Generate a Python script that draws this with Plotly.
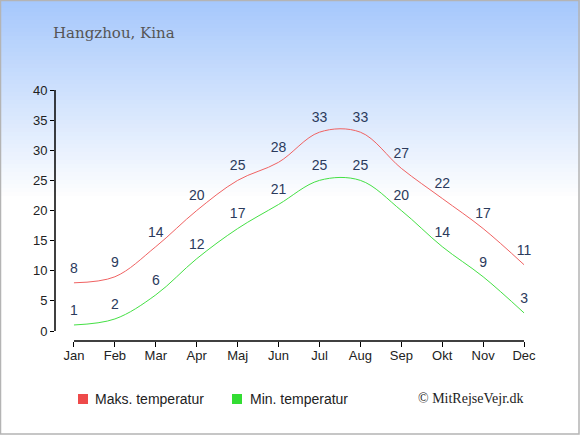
import plotly.graph_objects as go

months = ["Jan", "Feb", "Mar", "Apr", "Maj", "Jun", "Jul", "Aug", "Sep", "Okt", "Nov", "Dec"]
max_temp = [8, 9, 14, 20, 25, 28, 33, 33, 27, 22, 17, 11]
min_temp = [1, 2, 6, 12, 17, 21, 25, 25, 20, 14, 9, 3]
y_ticks = [0, 5, 10, 15, 20, 25, 30, 35, 40]

W, H = 580, 435
L, R, T, B = 55, 40, 80, 94
PW, PH = W - L - R, H - T - B


def px(x, y):
    # pixel position -> paper coordinates of the plot area
    return (x - L) / PW, 1 - (y - T) / PH


xs = list(range(len(months)))
red = "#f06262"
green = "#44e044"
label_color = "#2b3a5c"

fig = go.Figure()
for vals, col in [(max_temp, red), (min_temp, green)]:
    fig.add_trace(go.Scatter(x=xs, y=vals, mode="lines+markers+text", text=[str(v) for v in vals],
                             textposition="top center", textfont=dict(size=14, color=label_color),
                             marker=dict(size=9, color="rgba(0,0,0,0)"),
                             line=dict(color=col, width=1, shape="spline"), showlegend=False,
                             hoverinfo="skip"))

shapes = []
# background gradient
n = 50
for i in range(n):
    t = i / (n - 1)
    r = int(166 + (255 - 166) * t)
    g = int(200 + (255 - 200) * t)
    b = int(252 + (255 - 252) * t)
    x0, y0 = px(0, i * 4)
    x1, y1 = px(W, i * 4 + 5)
    shapes.append(dict(type="rect", xref="paper", yref="paper", x0=x0, x1=x1, y0=y1, y1=y0,
                       fillcolor=f"rgb({r},{g},{b})", line=dict(width=0), layer="below"))
# border
bx0, by0 = px(0.5, 0.5)
bx1, by1 = px(W - 1, H - 1)
shapes.append(dict(type="rect", xref="paper", yref="paper", x0=bx0, x1=bx1, y0=by1, y1=by0,
                   line=dict(color="#b4b4b4", width=1.5), layer="above"))
# axis lines
shapes.append(dict(type="line", xref="x", yref="paper", x0=0, x1=11, y0=0, y1=0,
                   line=dict(color="black", width=1.5)))
shapes.append(dict(type="line", xref="paper", yref="y", x0=0, x1=0, y0=0, y1=40,
                   line=dict(color="black", width=1.5)))
# legend squares
for sx, col in [(78, "#ee4a4a"), (232, "#33dd33")]:
    a0, b0 = px(sx, 394)
    a1, b1 = px(sx + 10, 404)
    shapes.append(dict(type="rect", xref="paper", yref="paper", x0=a0, x1=a1, y0=b1, y1=b0,
                       fillcolor=col, line=dict(width=0)))

annotations = []
tx, ty = px(51, 33)
annotations.append(dict(text="Hangzhou, Kina", xref="paper", yref="paper", x=tx, y=ty,
                        xanchor="left", yanchor="middle", showarrow=False,
                        font=dict(family="DejaVu Serif", size=15, color="#555555")))
for lx, txt in [(93, "Maks. temperatur"), (248, "Min. temperatur")]:
    ax, ay = px(lx, 399)
    annotations.append(dict(text=txt, xref="paper", yref="paper", x=ax, y=ay,
                            xanchor="left", yanchor="middle", showarrow=False,
                            font=dict(size=14, color="#222222")))
cx, cy = px(526, 398)
annotations.append(dict(text="© MitRejseVejr.dk", xref="paper", yref="paper", x=cx, y=cy,
                        xanchor="right", yanchor="middle", showarrow=False,
                        font=dict(family="Liberation Serif", size=14, color="#222222")))

fig.update_layout(
    width=W, height=H,
    margin=dict(l=L, r=R, t=T, b=B),
    paper_bgcolor="white", plot_bgcolor="rgba(0,0,0,0)",
    font=dict(family="Liberation Sans, Arial", size=13, color="#222222"),
    shapes=shapes, annotations=annotations,
    xaxis=dict(range=[-0.464, 11.39], tickvals=xs, ticktext=months, ticks="outside",
               ticklen=5, tickcolor="black", showgrid=False, zeroline=False, showline=False,
               ticklabelstandoff=-3, fixedrange=True),
    yaxis=dict(range=[-1.66, 41.66], tickvals=y_ticks, ticks="outside", ticklen=4,
               tickcolor="black", showgrid=False, zeroline=False, showline=False,
               fixedrange=True),
)

fig.write_html("out.html", config={"displayModeBar": False},
               post_script="document.body.style.margin='0';")
